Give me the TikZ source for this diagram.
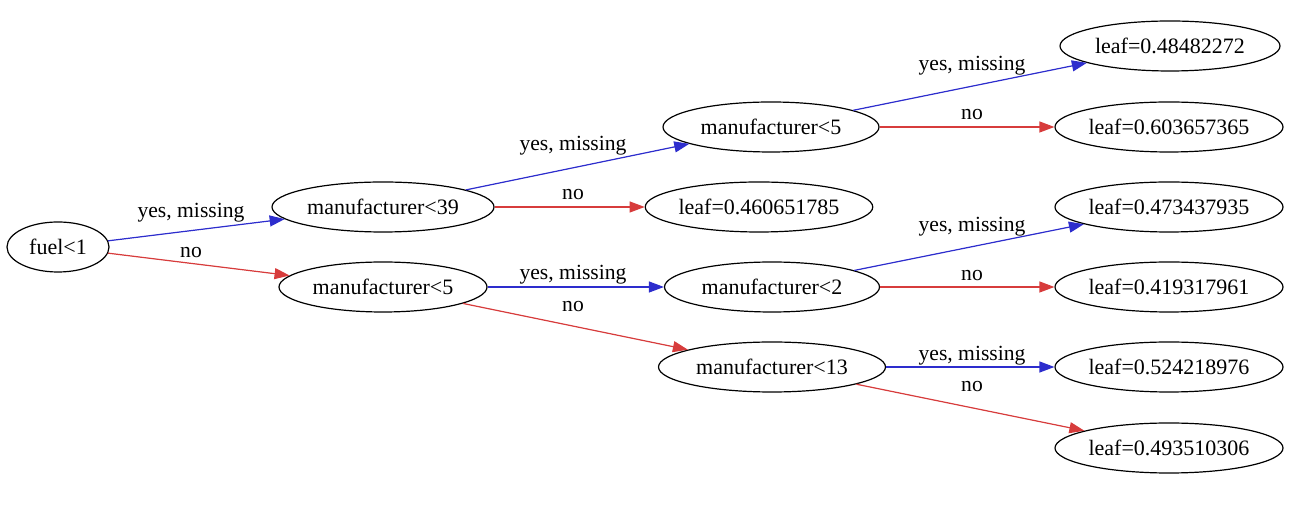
\documentclass[tikz,border=0pt]{standalone}
\usepackage{fontspec}
\setmainfont{Liberation Serif}
\usetikzlibrary{shapes.geometric,arrows.meta}
\definecolor{yescol}{RGB}{45,45,205}
\definecolor{nocol}{RGB}{215,60,60}
\begin{document}
\begin{tikzpicture}[x=0.5pt,y=-0.5pt,
  tnode/.style={ellipse,draw=black,line width=0.6pt,inner sep=0pt,minimum height=25pt,font=\fontsize{11}{13}\selectfont},
  lab/.style={inner sep=0pt,font=\fontsize{10.8}{13}\selectfont},
  edge/.style={line width=0.6pt,-{Triangle[length=7.5pt,width=5.5pt]}},
  yesedge/.style={edge,draw=yescol,fill=yescol},
  noedge/.style={edge,draw=nocol,fill=nocol}]
\useasboundingbox (0,0) rectangle (1305,506);
\node[tnode,minimum width=51pt] (f) at (58,247) {fuel<1};
\node[tnode,minimum width=111pt] (m39) at (383,207) {manufacturer<39};
\node[tnode,minimum width=104pt] (m5a) at (383,287) {manufacturer<5};
\node[tnode,minimum width=108pt] (m5b) at (771,127) {manufacturer<5};
\node[tnode,minimum width=107pt] (l460) at (759,207) {leaf=0.460651785};
\node[tnode,minimum width=107.5pt] (m2) at (772,287) {manufacturer<2};
\node[tnode,minimum width=113.5pt] (m13) at (772,367) {manufacturer<13};
\node[tnode,minimum width=110pt] (l484) at (1170,46) {leaf=0.48482272};
\node[tnode,minimum width=114pt] (l603) at (1169,127) {leaf=0.603657365};
\node[tnode,minimum width=114pt] (l473) at (1169,207) {leaf=0.473437935};
\node[tnode,minimum width=114pt] (l419) at (1169,287) {leaf=0.419317961};
\node[tnode,minimum width=114pt] (l524) at (1169,367) {leaf=0.524218976};
\node[tnode,minimum width=114pt] (l493) at (1169,448) {leaf=0.493510306};
\draw[yesedge] (f) -- (m39);
\draw[noedge] (f) -- (m5a);
\draw[yesedge] (m39) -- (m5b);
\draw[noedge] (m39) -- (l460);
\draw[yesedge] (m5a) -- (m2);
\draw[noedge] (m5a) -- (m13);
\draw[yesedge] (m5b) -- (l484);
\draw[noedge] (m5b) -- (l603);
\draw[yesedge] (m2) -- (l473);
\draw[noedge] (m2) -- (l419);
\draw[yesedge] (m13) -- (l524);
\draw[noedge] (m13) -- (l493);
\node[lab] (t1) at (191,213) {yes, missing};
\node[lab] (t2) at (191,253) {no};
\node[lab] (t3) at (573,146) {yes, missing};
\node[lab] (t4) at (573,195) {no};
\node[lab] (t5) at (573,275) {yes, missing};
\node[lab] (t6) at (573,307) {no};
\node[lab] (t7) at (972,66) {yes, missing};
\node[lab] (t8) at (972,115) {no};
\node[lab] (t9) at (972,227) {yes, missing};
\node[lab] (t10) at (972,276) {no};
\node[lab] (t11) at (972,356) {yes, missing};
\node[lab] (t12) at (972,387) {no};
\end{tikzpicture}
\end{document}
